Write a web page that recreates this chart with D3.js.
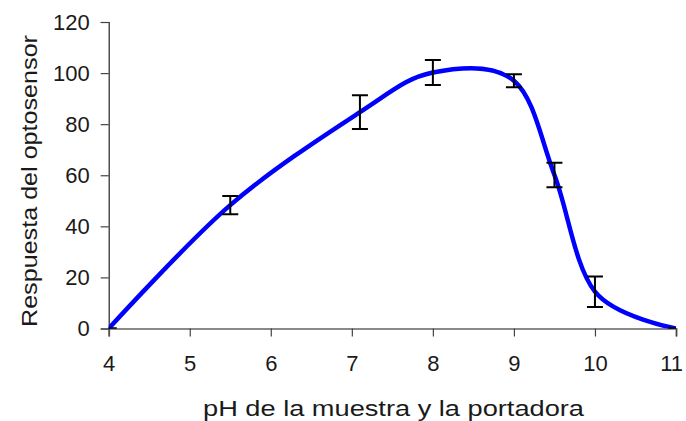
<!DOCTYPE html>
<html>
<head>
<meta charset="utf-8">
<script src="https://cdn.jsdelivr.net/npm/d3@7"></script>
<style>
  html, body { margin: 0; padding: 0; background: #fff; }
  svg { display: block; }
  text { font-family: "Liberation Sans", Arial, sans-serif; fill: #1a1a1a; }
</style>
</head>
<body>
<svg id="chart" width="686" height="421"></svg>
<script>
// Sensor response vs. pH of sample/carrier, with error bars
const phValues   = [4, 5.5, 7.1, 8, 9, 9.5, 10, 11];
const response   = [0, 48.3, 84.7, 100.2, 97, 60.1, 14.4, 0];
const errors     = [0, 3.6, 6.6, 4.9, 2.5, 4.8, 6.0, 0];
const xTicks     = [4, 5, 6, 7, 8, 9, 10, 11];
const yTicks     = [0, 20, 40, 60, 80, 100, 120];
const xTitle     = "pH de la muestra y la portadora";
const yTitle     = "Respuesta del optosensor";

const W = 686;
const svg = d3.select("#chart");
const plotLeft = 108.7, plotRight = 676, plotTop = 22, plotBottom = 328.5;
const fontSize = 22;

const x = d3.scaleLinear().domain([4, 11]).range([plotLeft, plotRight]);
const y = d3.scaleLinear().domain([0, 120]).range([plotBottom, plotTop]);

svg.append("defs").append("clipPath").attr("id", "plot")
  .append("rect").attr("x", plotLeft).attr("y", plotTop)
  .attr("width", plotRight - plotLeft).attr("height", plotBottom - plotTop);

// axes
const xAxis = svg.append("g").attr("transform", `translate(0,${plotBottom})`)
  .call(d3.axisBottom(x).tickValues(xTicks).tickSize(8).tickPadding(19).tickFormat(d3.format("d")));
xAxis.attr("font-size", fontSize).attr("font-family", "'Liberation Sans', Arial, sans-serif");
xAxis.select(".domain").attr("stroke", "#8a8a8a").attr("stroke-width", 2);
xAxis.selectAll(".tick line").attr("stroke", "#444").attr("stroke-width", 1.2);
xAxis.selectAll("text").attr("fill", "#1a1a1a");
// slide a label that would run past the right page edge back inside it
xAxis.selectAll(".tick text").each(function () {
  const g = this.parentNode.transform.baseVal.consolidate().matrix.e;
  const w = this.getComputedTextLength();
  const edge = W - 3;
  if (g + w / 2 > edge) {
    d3.select(this).attr("text-anchor", "end").attr("x", edge - g);
  }
});

const yAxis = svg.append("g").attr("transform", `translate(${plotLeft},0)`)
  .call(d3.axisLeft(y).tickValues(yTicks).tickSize(8).tickPadding(11).tickFormat(d3.format("d")));
yAxis.attr("font-size", fontSize).attr("font-family", "'Liberation Sans', Arial, sans-serif");
yAxis.select(".domain").attr("stroke", "#222").attr("stroke-width", 1.2);
yAxis.selectAll(".tick line").attr("stroke", "#444").attr("stroke-width", 1.2);
yAxis.selectAll("text").attr("fill", "#1a1a1a");

// titles (wide geometric lettering)
svg.append("text")
  .attr("x", 203).attr("y", 416)
  .attr("font-size", fontSize)
  .attr("textLength", 381).attr("lengthAdjust", "spacingAndGlyphs")
  .text(xTitle);

svg.append("text")
  .attr("transform", `translate(37,327) rotate(-90)`)
  .attr("font-size", fontSize)
  .attr("textLength", 292).attr("lengthAdjust", "spacingAndGlyphs")
  .text(yTitle);

const plot = svg.append("g").attr("clip-path", "url(#plot)");

// smoothed response curve
const pts = phValues.map((p, i) => [x(p), y(response[i])]);
plot.append("path")
  .attr("d", d3.line().curve(d3.curveCardinal.tension(0))(pts))
  .attr("fill", "none").attr("stroke", "#0000ff").attr("stroke-width", 4.5)
  .attr("stroke-linejoin", "round");

// error bars
const cap = 8;
const eb = plot.selectAll("g.eb").data(phValues.map((p, i) => ({ p, v: response[i], e: errors[i] })))
  .enter().append("g").attr("class", "eb")
  .attr("stroke", "#000").attr("stroke-width", 2);
eb.append("line")
  .attr("x1", d => x(d.p)).attr("x2", d => x(d.p))
  .attr("y1", d => y(d.v + d.e)).attr("y2", d => y(d.v - d.e));
eb.append("line")
  .attr("x1", d => x(d.p) - cap).attr("x2", d => x(d.p) + cap)
  .attr("y1", d => y(d.v + d.e)).attr("y2", d => y(d.v + d.e));
eb.append("line")
  .attr("x1", d => x(d.p) - cap).attr("x2", d => x(d.p) + cap)
  .attr("y1", d => y(d.v - d.e)).attr("y2", d => y(d.v - d.e));
</script>
</body>
</html>
